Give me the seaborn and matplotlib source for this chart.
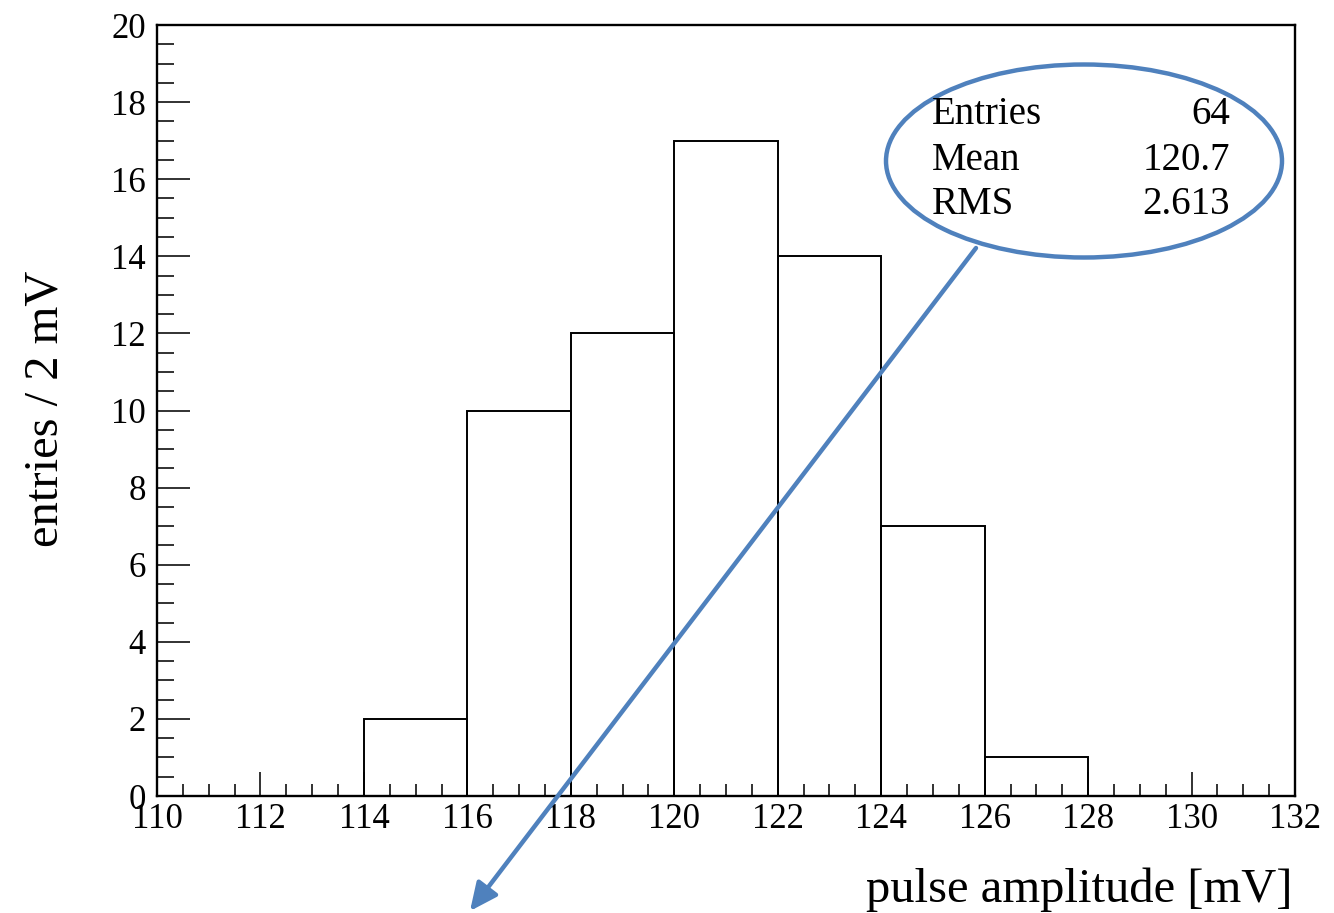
import numpy as np
import pandas as pd
import matplotlib
matplotlib.use("Agg")
import matplotlib.pyplot as plt
import seaborn as sns
from matplotlib.patches import Ellipse
from matplotlib.ticker import MultipleLocator

# Data
bin_edges = [114, 116, 118, 120, 122, 124, 126, 128]
bin_counts = [2, 10, 12, 17, 14, 7, 1]
stat_names = ["Entries", "Mean", "RMS"]
stat_values = ["64", "120.7", "2.613"]
x_label = "pulse amplitude [mV]"
y_label = "entries / 2 mV"

sns.set_theme(style="white")
plt.rcParams['font.family'] = ['Liberation Serif', 'DejaVu Serif']
plt.rcParams['text.color'] = 'black'
plt.rcParams['xtick.labelcolor'] = 'black'
plt.rcParams['ytick.labelcolor'] = 'black'

centers = [(a + b) / 2 for a, b in zip(bin_edges[:-1], bin_edges[1:])]
df = pd.DataFrame({"amp": centers, "n": bin_counts})

fig = plt.figure(figsize=(13.34, 9.13), dpi=100)
ax = fig.add_axes([0.1177, 0.1281, 0.8531, 0.8445])

sns.histplot(data=df, x="amp", weights="n", bins=bin_edges, element="bars",
             fill=False, color="black", linewidth=1.4, ax=ax)

ax.set_xlim(110, 132)
ax.set_ylim(0, 20)
ax.xaxis.set_major_locator(MultipleLocator(2))
ax.xaxis.set_minor_locator(MultipleLocator(0.5))
ax.yaxis.set_major_locator(MultipleLocator(2))
ax.yaxis.set_minor_locator(MultipleLocator(0.5))
ax.tick_params(axis='x', which='major', direction='in', length=17, width=1.3,
               labelsize=25, pad=5, bottom=True, top=False, color='#222222',
               labelcolor='black')
ax.tick_params(axis='x', which='minor', direction='in', length=9, width=1.3,
               bottom=True, top=False, color='#222222')
ax.tick_params(axis='y', which='major', direction='in', length=24, width=1.3,
               labelsize=25, pad=8, left=True, right=False, color='#222222',
               labelcolor='black')
ax.tick_params(axis='y', which='minor', direction='in', length=12, width=1.3,
               left=True, right=False, color='#222222')
for s in ax.spines.values():
    s.set_color('black')
    s.set_linewidth(1.7)
    s.set_visible(True)

ax.set_xlabel("")
ax.set_ylabel("")
fig.text(0.969, 0.012, x_label, ha='right', va='baseline', fontsize=35, color='black')
fig.text(0.034, 0.552, y_label, ha='center', va='center', rotation=90,
         fontsize=35, color='black')

# Stats box text
rows_y = [115, 160, 204]
for name, val, yp in zip(stat_names, stat_values, rows_y):
    fig.text(932 / 1334, 1 - yp / 913, name, ha='left', va='center',
             fontsize=28, color='black')
    fig.text(1230 / 1334, 1 - yp / 913, val, ha='right', va='center',
             fontsize=28, color='black')

blue = '#4F81BD'
ell = Ellipse((1084 / 1334, 1 - 161 / 913), 396 / 1334, 193 / 913,
              transform=fig.transFigure, fill=False, edgecolor=blue, linewidth=3.2)
fig.add_artist(ell)

ax.annotate("", xy=(470 / 1334, 1 - 911 / 913), xycoords='figure fraction',
            xytext=(976 / 1334, 1 - 248 / 913), textcoords='figure fraction',
            arrowprops=dict(arrowstyle='-|>,head_length=1.4,head_width=0.65',
                            color=blue, lw=3.2, shrinkA=0, shrinkB=0),
            annotation_clip=False)

fig.savefig("out.png", dpi=100)
